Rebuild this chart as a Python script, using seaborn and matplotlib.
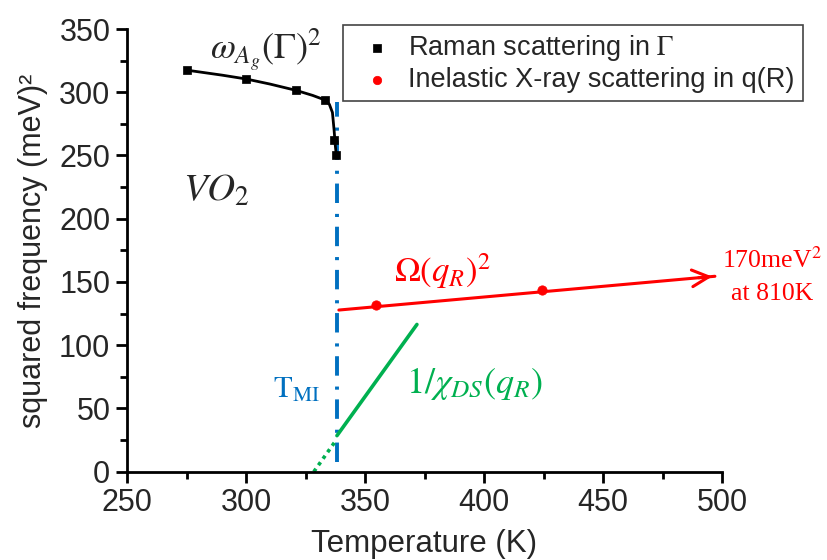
import matplotlib
matplotlib.use("Agg")
import matplotlib.pyplot as plt
import seaborn as sns

sns.set_style("ticks")
plt.rcParams['font.family'] = ['Liberation Sans', 'DejaVu Sans']
plt.rcParams['mathtext.fontset'] = 'stix'

# Raman scattering in Gamma (K, meV^2)
raman_T = [275, 300, 321, 333, 337, 338]
raman_w2 = [317.5, 310.5, 301.5, 294, 262, 250]
# guide to the eye through the Raman points
raman_guide_T = [275, 290, 300, 310, 321, 328, 333, 335, 336.3, 337, 337.5, 338]
raman_guide_w2 = [317.5, 313.5, 310.5, 306.5, 301.5, 297.5, 294, 290.5, 284, 270, 258, 249]

# inelastic X-ray scattering in q(R)
ixs_T = [354.5, 424.5]
ixs_w2 = [131.8, 143.7]
omega_T = [339, 497]
omega_w2 = [127.8, 154.5]

# 1/chi_DS(q_R)
chi_T = [338.2, 371.8]
chi_w2 = [28.5, 116.4]
chi_ext_T = [328.5, 337.5]
chi_ext_w2 = [0, 24]

# metal-insulator transition
tmi_T = [338.3, 338.3]
tmi_w2 = [8, 292]

blue = '#0070C0'
green = '#00B050'
red = '#FF0000'

fig = plt.figure(figsize=(8.27, 5.6), dpi=100)
ax = fig.add_axes([0.1536, 0.1577, 0.7195, 0.7905])

sns.lineplot(x=tmi_T, y=tmi_w2, ax=ax, color=blue, lw=2.8, estimator=None, sort=False,
             linestyle=(0, (5, 2.5, 0.8, 2.8)))
sns.lineplot(x=raman_guide_T, y=raman_guide_w2, ax=ax, color='black', lw=2, estimator=None, sort=False)
sns.lineplot(x=omega_T, y=omega_w2, ax=ax, color=red, lw=2.2, estimator=None, sort=False)
ax.annotate('', xy=(omega_T[1], omega_w2[1]), xytext=(omega_T[1] - 8, omega_w2[1] - 1.35),
            arrowprops=dict(arrowstyle='->', color=red, lw=2.2, mutation_scale=30))
sns.lineplot(x=chi_T, y=chi_w2, ax=ax, color=green, lw=2.6, estimator=None, sort=False)
sns.lineplot(x=chi_ext_T, y=chi_ext_w2, ax=ax, color=green, lw=2.6, estimator=None, sort=False,
             linestyle=(0, (1, 1.2)))

sns.scatterplot(x=raman_T, y=raman_w2, ax=ax, marker='s', color='black', s=40,
                edgecolor='black', label=r'Raman scattering in $\Gamma$', zorder=5)
sns.scatterplot(x=ixs_T, y=ixs_w2, ax=ax, marker='o', color=red, s=45,
                edgecolor=red, label='Inelastic X-ray scattering in q(R)', zorder=5)

ax.set_xlim(250, 500)
ax.set_ylim(0, 350)
ax.set_xticks(range(250, 501, 50))
ax.set_yticks(range(0, 351, 50))
ax.set_xticks(range(275, 500, 50), minor=True)
ax.set_yticks(range(25, 350, 50), minor=True)
ax.tick_params(which='major', direction='out', length=8, width=2, labelsize=22, color='black')
ax.tick_params(axis='x', which='major', pad=4)
ax.tick_params(axis='y', which='major', pad=4)
ax.tick_params(which='minor', direction='out', length=5, width=2, color='black')
sns.despine(ax=ax)
for sp in ['left', 'bottom']:
    ax.spines[sp].set_linewidth(2)
    ax.spines[sp].set_color('black')

ax.set_xlabel('Temperature (K)', fontsize=22.5, va='baseline')
ax.xaxis.set_label_coords(0.5, (471.7 - 552) / 442.7)
ax.set_ylabel('squared frequency (meV)\u00b2', fontsize=22, labelpad=8)

ax.text(308.5, 333, r'$\omega_{A_g}(\Gamma)^2$', fontsize=26, ha='center', va='center')
ax.text(287.5, 222, r'$VO_2$', fontsize=28, ha='center', va='center')
ax.text(321, 64.6, r'$\mathrm{T}_{\mathrm{MI}}$', fontsize=22, color=blue, ha='center', va='center')
ax.text(396, 70, r'$1/\chi_{DS}(q_R)$', fontsize=26, color=green, ha='center', va='center')
ax.text(382.7, 158.7, r'$\Omega(q_R)^2$', fontsize=25, color=red, ha='center', va='center')
ax.text(521, 167, r'170meV$^2$', fontsize=18.5, color=red, ha='center', va='center',
        family='Liberation Serif', clip_on=False)
ax.text(521, 140.5, 'at 810K', fontsize=18.5, color=red, ha='center', va='center',
        family='Liberation Serif', clip_on=False)

ax.legend(loc='upper left', bbox_to_anchor=(343 / 827, 1 - 25 / 560), bbox_transform=fig.transFigure,
          fontsize=19.5, frameon=True, fancybox=False, edgecolor='#444444', framealpha=1,
          borderaxespad=0, handlelength=1.9, handletextpad=0.2, borderpad=0.3, labelspacing=0.15,
          markerscale=0.9)
ax.get_legend().get_frame().set_linewidth(1.2)

fig.savefig('out.png', dpi=100)
